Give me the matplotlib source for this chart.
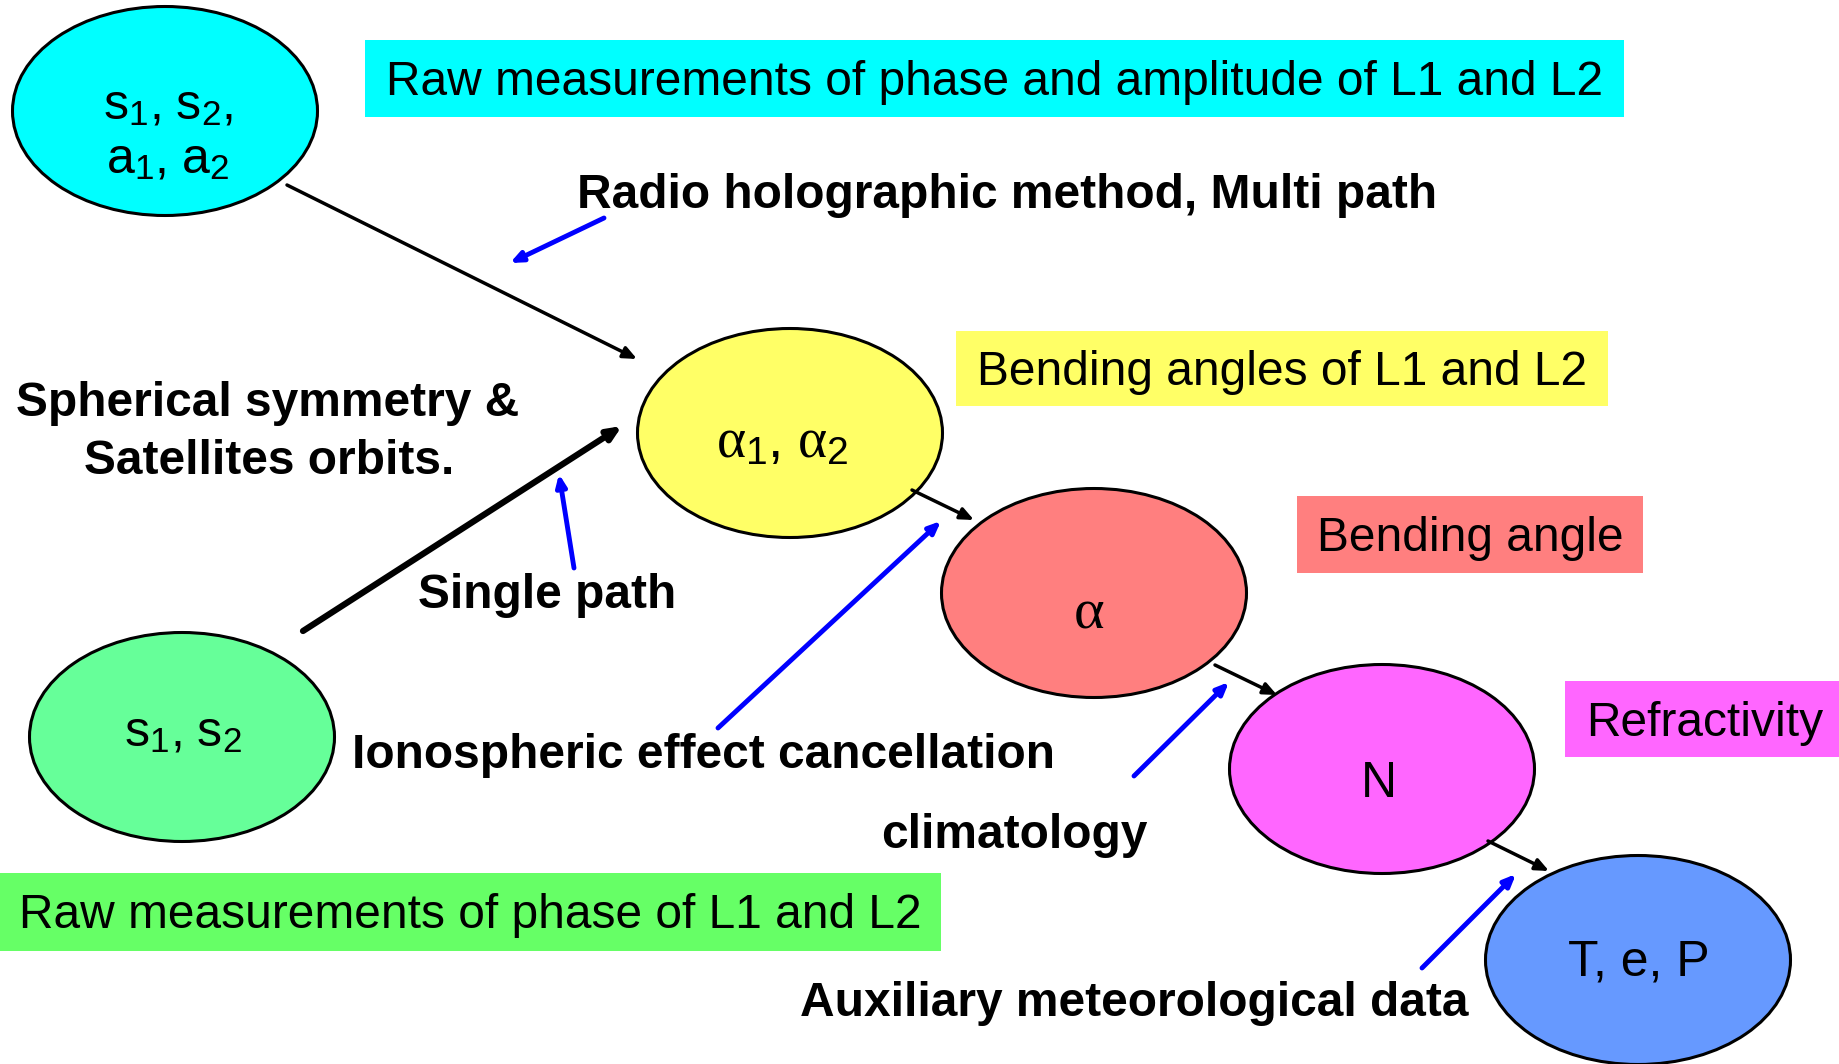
import matplotlib.pyplot as plt
from matplotlib.patches import Ellipse, Rectangle

plt.rcParams['font.family'] = ['Liberation Sans', 'DejaVu Sans']
plt.rcParams['mathtext.fontset'] = 'custom'
plt.rcParams['mathtext.rm'] = 'Liberation Sans'
plt.rcParams['mathtext.it'] = 'Liberation Serif'

# nodes (ellipses)
node_labels = [r'$\mathrm{s}_1\mathrm{,}\ \mathrm{s}_2\mathrm{,}$' + '\n' + r'$\mathrm{a}_1\mathrm{,}\ \mathrm{a}_2$',
               r'$\alpha_1\mathrm{,}\ \alpha_2$',
               r'$\alpha$',
               'N',
               'T, e, P',
               r'$\mathrm{s}_1\mathrm{,}\ \mathrm{s}_2$']
node_xy = [(165, 111), (790, 433), (1094, 593), (1382, 769), (1638, 960), (182, 737)]
node_text_xy = [(168, 133), (782, 443), (1089, 613), (1379, 784), (1639, 962), (183, 733)]
node_sizes = [36, 40, 42, 36, 36, 36]
node_colors = ['#00FFFF', '#FFFF66', '#FF7F7F', '#FF66FF', '#6699FF', '#66FF99']

# coloured caption boxes
box_texts = ['Raw measurements of phase and amplitude of L1 and L2',
             'Bending angles of L1 and L2',
             'Bending angle',
             'Refractivity',
             'Raw measurements of phase of L1 and L2']
box_rects = [(365, 40, 1259, 77), (956, 331, 652, 75), (1297, 496, 346, 77),
             (1565, 681, 280, 76), (0, 873, 941, 78)]
box_colors = ['#00FFFF', '#FFFF66', '#FF7F7F', '#FF66FF', '#66FF66']

# bold method labels
labels = ['Radio holographic method, Multi path',
          'Spherical symmetry &',
          'Satellites orbits.',
          'Single path',
          'Ionospheric effect cancellation',
          'climatology',
          'Auxiliary meteorological data']
label_xy = [(1007, 195), (268, 404), (269, 462), (547, 596), (704, 755), (1014, 836), (1134, 1004)]

# arrows: (start, end, width)
black_arrows = [((287, 185), (637, 359), 2.5),
                ((303, 631), (622, 426), 4.5),
                ((912, 490), (974, 520), 2.5),
                ((1215, 665), (1277, 695), 2.5),
                ((1488, 841), (1549, 871), 2.5)]
blue_arrows = [((604, 218), (510, 263)),
               ((574, 568), (559, 474)),
               ((718, 728), (941, 521)),
               ((1134, 776), (1229, 682)),
               ((1422, 968), (1516, 874))]

fig = plt.figure(figsize=(18.4, 10.64), dpi=100)
ax = fig.add_axes([0, 0, 1, 1])
ax.set_xlim(0, 1840)
ax.set_ylim(1064, 0)
ax.axis('off')

for (x, y, w, h), c in zip(box_rects, box_colors):
    ax.add_patch(Rectangle((x, y), w, h, facecolor=c, edgecolor='none'))
for t, (x, y, w, h) in zip(box_texts, box_rects):
    ax.text(x + w / 2, y + h / 2 + 4, t, ha='center', va='center', fontsize=34.5)

for (x, y), c in zip(node_xy, node_colors):
    ax.add_patch(Ellipse((x, y), 305, 209, facecolor=c, edgecolor='black', lw=2.2))
for t, (x, y), fs in zip(node_labels, node_text_xy, node_sizes):
    ax.text(x, y, t, ha='center', va='center', fontsize=fs, linespacing=1.2)

for t, (x, y) in zip(labels, label_xy):
    ax.text(x, y, t, ha='center', va='center', fontsize=34.5, fontweight='bold')

for s, e, lw in black_arrows:
    ax.annotate('', xy=e, xytext=s,
                arrowprops=dict(arrowstyle='-|>,head_length=0.8,head_width=0.35',
                                color='black', lw=lw, shrinkA=0, shrinkB=0))
for s, e in blue_arrows:
    ax.annotate('', xy=e, xytext=s,
                arrowprops=dict(arrowstyle='-|>,head_length=0.7,head_width=0.3',
                                color='#0000FF', lw=3.5, shrinkA=0, shrinkB=0))

fig.savefig('out.png', dpi=100)
